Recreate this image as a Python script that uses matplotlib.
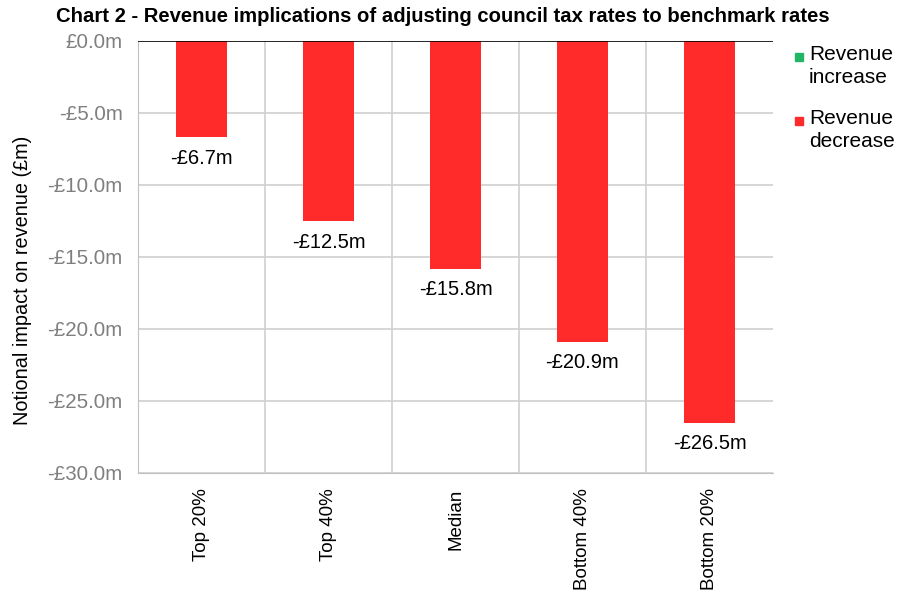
import numpy as np
import matplotlib.pyplot as plt
from matplotlib.patches import Rectangle

plt.rcParams['font.family'] = ['Liberation Sans', 'DejaVu Sans']

categories = ['Top 20%', 'Top 40%', 'Median', 'Bottom 40%', 'Bottom 20%']
impact = [-6.7, -12.5, -15.8, -20.9, -26.5]
yticks = [0, -5, -10, -15, -20, -25, -30]
legend_labels = ['Revenue\nincrease', 'Revenue\ndecrease']

red = '#ff2a2a'
green = '#22b566'
grid = '#d0d0d0'

fig = plt.figure(figsize=(9.01, 6), dpi=100)
ax = fig.add_axes([138 / 901, 1 - 473 / 600, 635 / 901, 432 / 600])

x = np.arange(len(categories))
ax.bar(x, impact, width=0.4, color=red, zorder=3)
for xi, v in zip(x, impact):
    ax.text(xi, v - 0.8, '-£%.1fm' % abs(v), ha='center', va='top', fontsize=14.5, zorder=4)

ax.set_xlim(-0.5, len(categories) - 0.5)
ax.set_ylim(-30, 0)
ax.set_yticks(yticks)
ax.set_yticklabels(['£0.0m'] + ['-£%.1fm' % abs(t) for t in yticks[1:]])
ax.set_xticks(x)
ax.set_xticklabels(categories, rotation=90, fontsize=13.5)
ax.tick_params(axis='y', colors='#7f7f7f', labelsize=14.8, length=0, pad=11)
ax.tick_params(axis='x', length=0, pad=11)

# horizontal gridlines plus separators between categories
for t in yticks[1:]:
    ax.axhline(t, color=grid, lw=1.2, zorder=1)
for b in np.arange(0.5, len(categories) - 0.5):
    ax.axvline(b, color=grid, lw=1.2, zorder=1)
ax.axhline(0, color='black', lw=1.2, zorder=5)

for s in ['left', 'bottom']:
    ax.spines[s].set_color('#c0c0c0')
ax.spines['top'].set_visible(False)
ax.spines['right'].set_visible(False)

fig.text(23 / 901, 1 - 280 / 600, 'Notional impact on revenue (£m)', rotation=90,
         ha='center', va='center', fontsize=14.3)

fig.text(443 / 901, 1 - 17 / 600, 'Chart 2 - Revenue implications of adjusting council tax rates to benchmark rates',
         ha='center', va='center', fontsize=14.55, fontweight='bold')

# legend: small square beside the first line of each two-line label
for i, (lab, col) in enumerate(zip(legend_labels, [green, red])):
    ymid = 1 - (57 + i * 64) / 600
    fig.add_artist(Rectangle((795 / 901, ymid - 4 / 600), 8 / 901, 8 / 600,
                             transform=fig.transFigure, color=col))
    fig.text(809 / 901, ymid + 12 / 600, lab, ha='left', va='top', fontsize=15, linespacing=1.24)

plt.savefig('out.png', dpi=100)
